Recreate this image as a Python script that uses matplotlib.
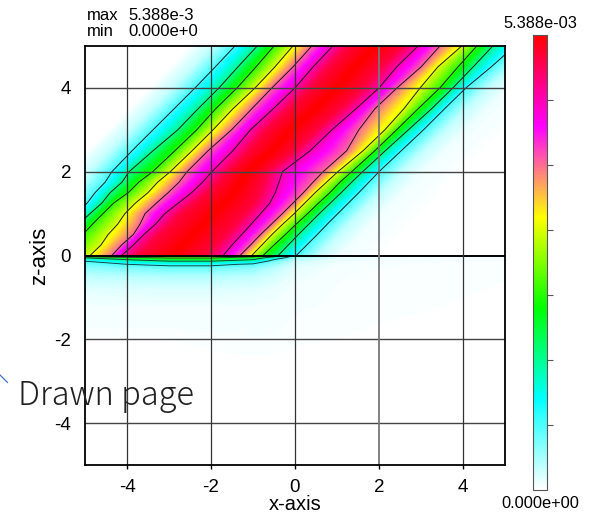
"""Contour map of a tilted band with a colour bar and a pasted caption."""

from __future__ import annotations

import numpy as np
import matplotlib

matplotlib.use("Agg")
import matplotlib.pyplot as plt
from matplotlib.cm import ScalarMappable
from matplotlib.colors import LinearSegmentedColormap, Normalize
from matplotlib.lines import Line2D

W, H = 589, 516

# z rows of the upper half, x position of every contour level on each row
z_rows = [5, 4.5, 4, 3.5, 3, 2.5, 2, 1.75, 1.5, 1.25, 1, 0.75, 0.5, 0.25, 0]
u1 = [-1.43, -1.9, -2.38, -2.88, -3.38, -3.88, -4.36, -4.52, -4.76, -4.95, -5.2, -5.42, -5.65, -5.87, -6.1]
u2 = [-0.9, -1.36, -1.81, -2.31, -2.79, -3.38, -3.95, -4.12, -4.4, -4.6, -4.88, -5.15, -5.4, -5.65, -5.9]
u3 = [-0.5, -0.93, -1.38, -1.89, -2.34, -2.86, -3.39, -3.72, -3.97, -4.32, -4.57, -4.82, -5.05, -5.3, -5.6]
u4 = [-0.05, -0.48, -0.95, -1.48, -1.95, -2.45, -2.97, -3.27, -3.5, -3.8, -4.05, -4.22, -4.45, -4.62, -4.88]
u5 = [0.4, -0.05, -0.55, -1.03, -1.51, -2.07, -2.57, -2.76, -3.02, -3.3, -3.57, -3.69, -3.85, -4.13, -4.36]
u6 = [0.9, 0.43, 0.0, -0.52, -1.06, -1.48, -1.98, -2.2, -2.46, -2.78, -3.1, -3.32, -3.6, -3.85, -4.13]
l6 = [2.93, 2.42, 2.0, 1.45, 0.88, 0.36, -0.3, -0.38, -0.47, -0.6, -0.82, -1.04, -1.27, -1.5, -1.71]
l5 = [3.45, 3.0, 2.43, 1.9, 1.52, 1.23, 0.67, 0.43, 0.2, -0.05, -0.3, -0.56, -0.82, -1.06, -1.31]
l4 = [3.97, 3.4, 2.98, 2.59, 2.14, 1.62, 1.02, 0.75, 0.48, 0.23, -0.02, -0.29, -0.55, -0.79, -1.03]
l3 = [4.33, 3.88, 3.45, 2.93, 2.42, 1.9, 1.35, 1.07, 0.83, 0.56, 0.3, 0.03, -0.23, -0.5, -0.76]
l2 = [4.71, 4.24, 3.76, 3.25, 2.7, 2.15, 1.61, 1.35, 1.1, 0.84, 0.58, 0.33, 0.08, -0.16, -0.4]
l1 = [5.23, 4.67, 4.07, 3.56, 3.06, 2.53, 2.0, 1.76, 1.52, 1.27, 1.02, 0.77, 0.53, 0.28, 0.03]

# values of the lower half, normalised to the maximum
below_x = [-5, -4, -3, -2, -1, -0.5, 0, 1, 2, 3, 4, 5]
below_z = [0, -0.03, -0.055, -0.1, -0.135, -0.21, -0.3, -0.5, -0.8, -1.2, -2, -3, -5]
below_values = [
    [0.50, 0.52, 0.55, 0.55, 0.50, 0.34, 0.12, 0.03, 0.02, 0.018, 0.012, 0.012],
    [0.43, 0.47, 0.50, 0.50, 0.44, 0.286, 0.09, 0.025, 0.016, 0.014, 0.01, 0.01],
    [0.286, 0.40, 0.44, 0.44, 0.36, 0.22, 0.07, 0.022, 0.014, 0.012, 0.009, 0.009],
    [0.18, 0.286, 0.33, 0.34, 0.286, 0.14, 0.05, 0.018, 0.012, 0.01, 0.008, 0.008],
    [0.143, 0.23, 0.286, 0.286, 0.22, 0.11, 0.04, 0.015, 0.01, 0.009, 0.007, 0.007],
    [0.11, 0.143, 0.165, 0.165, 0.13, 0.08, 0.03, 0.012, 0.008, 0.007, 0.006, 0.006],
    [0.085, 0.10, 0.11, 0.11, 0.09, 0.055, 0.022, 0.01, 0.007, 0.006, 0.006, 0.007],
    [0.05, 0.055, 0.06, 0.06, 0.05, 0.035, 0.016, 0.008, 0.006, 0.006, 0.007, 0.006],
    [0.024, 0.026, 0.028, 0.028, 0.024, 0.018, 0.011, 0.007, 0.006, 0.007, 0.006, 0.004],
    [0.012, 0.012, 0.012, 0.012, 0.012, 0.01, 0.008, 0.007, 0.007, 0.006, 0.004, 0.002],
    [0.005, 0.005, 0.005, 0.006, 0.007, 0.007, 0.006, 0.005, 0.003, 0.001, 0.0, 0.0],
    [0.002, 0.002, 0.002, 0.002, 0.002, 0.001, 0.0, 0.0, 0.0, 0.0, 0.0, 0.0],
    [0.0, 0.0, 0.0, 0.0, 0.0, 0.0, 0.0, 0.0, 0.0, 0.0, 0.0, 0.0],
]

contour_levels = [1 / 7, 2 / 7, 3 / 7, 4 / 7, 5 / 7, 6 / 7]
ticks = [-4, -2, 0, 2, 4]

cmap = LinearSegmentedColormap.from_list(
    "band",
    [(0, "#ffffff"), (0.2, "#00ffff"), (0.4, "#00ff00"), (0.6, "#ffff00"), (0.8, "#ff00ff"), (1, "#ff0000")],
)
norm = Normalize(0, 1)
fill_levels = np.linspace(0, 1, 401)

plt.rcParams["font.family"] = ["Liberation Sans", "DejaVu Sans"]
plt.rcParams["axes.unicode_minus"] = False

fig = plt.figure(figsize=(W / 100, H / 100), dpi=100)
ax = fig.add_axes([85 / W, (H - 465) / H, 420 / W, 419 / H])

# curvilinear mesh: every column of the upper half follows one contour
rows = np.array(z_rows, dtype=float)
lv = [np.array(a) for a in (u1, u2, u3, u4, u5, u6, l6, l5, l4, l3, l2, l1)]
mid = (lv[5] + lv[6]) / 2
far = np.full_like(rows, 20.0)
columns = [
    (-far, 0.0),
    (lv[0] - 1.1, 0.0),
    (lv[0] - 0.5, 0.05),
    (lv[0], 1 / 7),
    (lv[1], 2 / 7),
    (lv[2], 3 / 7),
    (lv[3], 4 / 7),
    (lv[4], 5 / 7),
    (lv[5], 6 / 7),
    (lv[5] + 0.4, 0.95),
    (mid, 1.0),
    (lv[6] - 0.4, 0.95),
    (lv[6], 6 / 7),
    (lv[7], 5 / 7),
    (lv[8], 4 / 7),
    (lv[9], 3 / 7),
    (lv[10], 2 / 7),
    (lv[11], 1 / 7),
    (lv[11] + 0.5, 0.05),
    (lv[11] + 1.0, 0.015),
    (lv[11] + 2.2, 0.0),
    (far, 0.0),
]
X = np.column_stack([c[0] for c in columns])
Z = np.repeat(rows[:, None], X.shape[1], axis=1)
C = np.repeat(np.array([[c[1] for c in columns]]), len(rows), axis=0)

ax.contourf(X, Z, C, levels=fill_levels, cmap=cmap, norm=norm, antialiased=False)
ax.contour(X, Z, C, levels=contour_levels, colors="#111111", linewidths=0.65)

bx, bz = np.meshgrid(below_x, below_z)
bc = np.array(below_values)
ax.contourf(bx, bz, bc, levels=fill_levels, cmap=cmap, norm=norm, antialiased=False)
ax.contour(bx, bz, bc, levels=contour_levels, colors="#1a3a3a", linewidths=0.65)

ax.set_xlim(-5, 5)
ax.set_ylim(-5, 5)
ax.set_xticks(ticks)
ax.set_yticks(ticks)
ax.tick_params(axis="x", length=3, width=1, labelsize=13.5, pad=7)
ax.tick_params(axis="y", length=0, labelsize=13.5, pad=10)
for t in ticks:
    ax.axvline(t, color="#777777" if t == 2 else "#333333", lw=1.3 if t == 2 else 0.9, zorder=3)
    if t == 0:
        ax.axhline(t, color="black", lw=1.4, zorder=3)
    else:
        ax.axhline(t, color="#444444", lw=1.0, zorder=3)
for s in ax.spines.values():
    s.set_linewidth(1.3)
    s.set_zorder(4)

fig.text(295 / W, 1 - 505 / H, "x-axis", ha="center", va="center", fontsize=14.5)
fig.text(40 / W, 1 - 256 / H, "z-axis", ha="center", va="center", rotation=90, fontsize=16)

fig.text(87 / W, 1 - 15 / H, "max", ha="left", va="center", fontsize=12)
fig.text(128 / W, 1 - 15 / H, "5.388e-3", ha="left", va="center", fontsize=12)
fig.text(87 / W, 1 - 31 / H, "min", ha="left", va="center", fontsize=12)
fig.text(128 / W, 1 - 31 / H, "0.000e+0", ha="left", va="center", fontsize=12)

# colour bar with the end values written by hand
cax = fig.add_axes([533 / W, (H - 490) / H, 14 / W, 455 / H])
cb = fig.colorbar(ScalarMappable(norm=norm, cmap=cmap), cax=cax, ticks=contour_levels)
cb.ax.tick_params(length=4.5, width=0.8, color="#555555", labelright=False)
cb.outline.set_edgecolor("#555555")
cb.outline.set_linewidth(0.8)
fig.text(540 / W, 1 - 24 / H, "5.388e-03", ha="center", va="center", fontsize=11.8)
fig.text(540 / W, 1 - 503 / H, "0.000e+00", ha="center", va="center", fontsize=11.8)

# caption pasted over the figure, plus the stray connector stub next to it
fig.text(18 / W, 1 - 396 / H, "Drawn page", ha="left", va="center", fontsize=23.5, color="#222222",
         family=["Noto Sans CJK JP", "DejaVu Sans"], fontweight="light")
fig.add_artist(Line2D([0, 7.5 / W], [1 - 375 / H, 1 - 382.5 / H], color="#4472c4", lw=0.9))

fig.savefig("out.png", dpi=100)
